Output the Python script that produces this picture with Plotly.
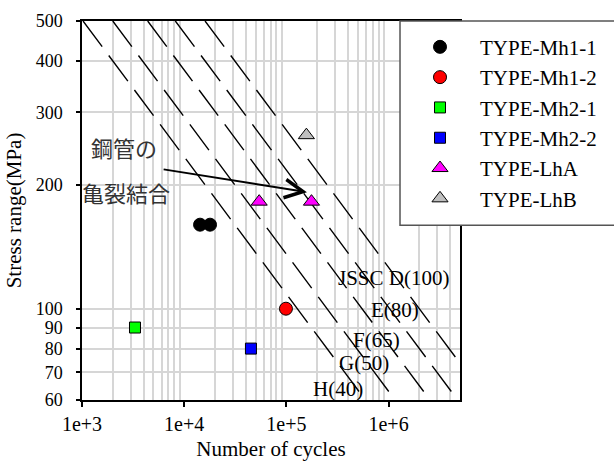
import numpy as np
import plotly.graph_objects as go

# ---- S-N design curves (JSSC) ----
curve_labels = ["JSSC D(100)", "E(80)", "F(65)", "G(50)", "H(40)"]
curve_stress = [100, 80, 65, 50, 40]       # fatigue strength at 2e6 cycles (MPa)
ref_cycles = 2e6
slope_m = 3
curve_stress_span = [500, 40]              # stress range drawn for each curve
label_cycles = [1.11e6, 1.16e6, 7.66e5, 5.71e5, 3.18e5]
label_stress = [118.7, 99.3, 84.0, 73.8, 63.8]

# ---- Test results ----
series_names = ["TYPE-Mh1-1", "TYPE-Mh1-2", "TYPE-Mh2-1", "TYPE-Mh2-2", "TYPE-LhA", "TYPE-LhB"]
mh1_1_cycles = [14300, 17900]
mh1_1_stress = [160, 160]
mh1_2_cycles = [99000]
mh1_2_stress = [100]
mh2_1_cycles = [3300]
mh2_1_stress = [90]
mh2_2_cycles = [45000]
mh2_2_stress = [80]
lha_cycles = [54200, 176000]
lha_stress = [182, 182]
lhb_cycles = [157000]
lhb_stress = [264]

# ---- Axis ticks ----
x_tickvals = [1e3, 1e4, 1e5, 1e6]
x_ticktext = ["1e+3", "1e+4", "1e+5", "1e+6"]
y_tickvals = [60, 70, 80, 90, 100, 200, 300, 400, 500]
y_ticktext = [str(v) for v in y_tickvals]
x_range = [1e3, 5e6]
y_range = [60, 500]

# ---- Note ----
note_lines = ["鋼管の", "亀裂結合"]
note_cycles = [2590, 2710]
note_stress = [246.6, 191.9]
arrow_tail = (6080, 218.3)
arrow_head = (158900, 191.9)

SERIF = "Liberation Serif, Times New Roman, Noto Sans CJK JP, serif"

fig = go.Figure()

for fs in curve_stress:
    s = np.array(curve_stress_span, dtype=float)
    n = ref_cycles * (fs / s) ** slope_m
    fig.add_trace(go.Scatter(x=n, y=s, mode="lines", showlegend=False, hoverinfo="skip",
                             line=dict(color="black", width=1.4, dash="32px,11px")))

styles = [
    (mh1_1_cycles, mh1_1_stress, "circle", "#000000", 13),
    (mh1_2_cycles, mh1_2_stress, "circle", "#ff0000", 13),
    (mh2_1_cycles, mh2_1_stress, "square", "#00ff00", 11),
    (mh2_2_cycles, mh2_2_stress, "square", "#0000ff", 11),
    (lha_cycles, lha_stress, "triangle-up", "#ff00ff", 14),
    (lhb_cycles, lhb_stress, "triangle-up", "#bfbfbf", 14),
]
for name, (xs, ys, sym, col, sz) in zip(series_names, styles):
    fig.add_trace(go.Scatter(x=xs, y=ys, mode="markers", name=name,
                             marker=dict(symbol=sym, color=col, size=sz,
                                         line=dict(color="black", width=1))))

annotations = []
for lab, lx, ly in zip(curve_labels, label_cycles, label_stress):
    annotations.append(dict(x=np.log10(lx), y=np.log10(ly), xref="x", yref="y", text=lab,
                            showarrow=False, font=dict(family=SERIF, size=21, color="black")))
for t, nx, ny in zip(note_lines, note_cycles, note_stress):
    annotations.append(dict(x=np.log10(nx), y=np.log10(ny), xref="x", yref="y", text=t,
                            showarrow=False,
                            font=dict(family="Noto Sans CJK JP", size=22, color="#333333")))
annotations.append(dict(x=np.log10(arrow_head[0]), y=np.log10(arrow_head[1]), xref="x", yref="y",
                        ax=np.log10(arrow_tail[0]), ay=np.log10(arrow_tail[1]),
                        axref="x", ayref="y", text="", showarrow=True,
                        arrowhead=5, arrowsize=1.8, arrowwidth=2, arrowcolor="black"))

fig.update_layout(
    width=614, height=461,
    margin=dict(l=82, r=154, t=21, b=61),
    paper_bgcolor="white", plot_bgcolor="white",
    font=dict(family=SERIF, size=20, color="black"),
    annotations=annotations,
    showlegend=True,
    legend=dict(x=0.8413, y=0.985, xanchor="left", yanchor="top",
                bgcolor="rgba(0,0,0,0)", borderwidth=0, itemwidth=70,
                font=dict(family=SERIF, size=21, color="black"), tracegroupgap=0),
    shapes=[dict(type="rect", xref="paper", yref="paper", x0=0.8413, x1=1.6, y0=0.4614, y1=1.0,
                 fillcolor="white", line=dict(color="#555555", width=1.5), layer="above")],
)

fig.update_xaxes(
    type="log", range=[np.log10(x_range[0]), np.log10(x_range[1])],
    tickvals=x_tickvals, ticktext=x_ticktext,
    showgrid=False, ticks="outside", ticklen=5, tickcolor="black", tickwidth=1.5,
    showline=True, linecolor="black", linewidth=1.5, mirror=True,
    minor=dict(tickmode="array",
               tickvals=[m * d for d in [1e3, 1e4, 1e5, 1e6] for m in range(2, 10)],
               showgrid=True, gridcolor="#d6d6d6", gridwidth=1.5, ticks=""),
    title=dict(text="Number of cycles", font=dict(family=SERIF, size=21), standoff=10),
    tickfont=dict(family=SERIF, size=20), zeroline=False, automargin=False,
)
fig.update_yaxes(
    type="log", range=[np.log10(y_range[0]), np.log10(y_range[1])],
    tickvals=y_tickvals, ticktext=y_ticktext,
    showgrid=True, gridcolor="#d6d6d6", gridwidth=1.5,
    ticks="outside", ticklen=4, tickcolor="black", tickwidth=1.5,
    showline=True, linecolor="black", linewidth=1.5, mirror=True,
    title=dict(text="Stress range(MPa)", font=dict(family=SERIF, size=21), standoff=8),
    tickfont=dict(family=SERIF, size=18), ticklabelstandoff=10, zeroline=False,
    automargin=False,
)

fig.write_html("out.html")
